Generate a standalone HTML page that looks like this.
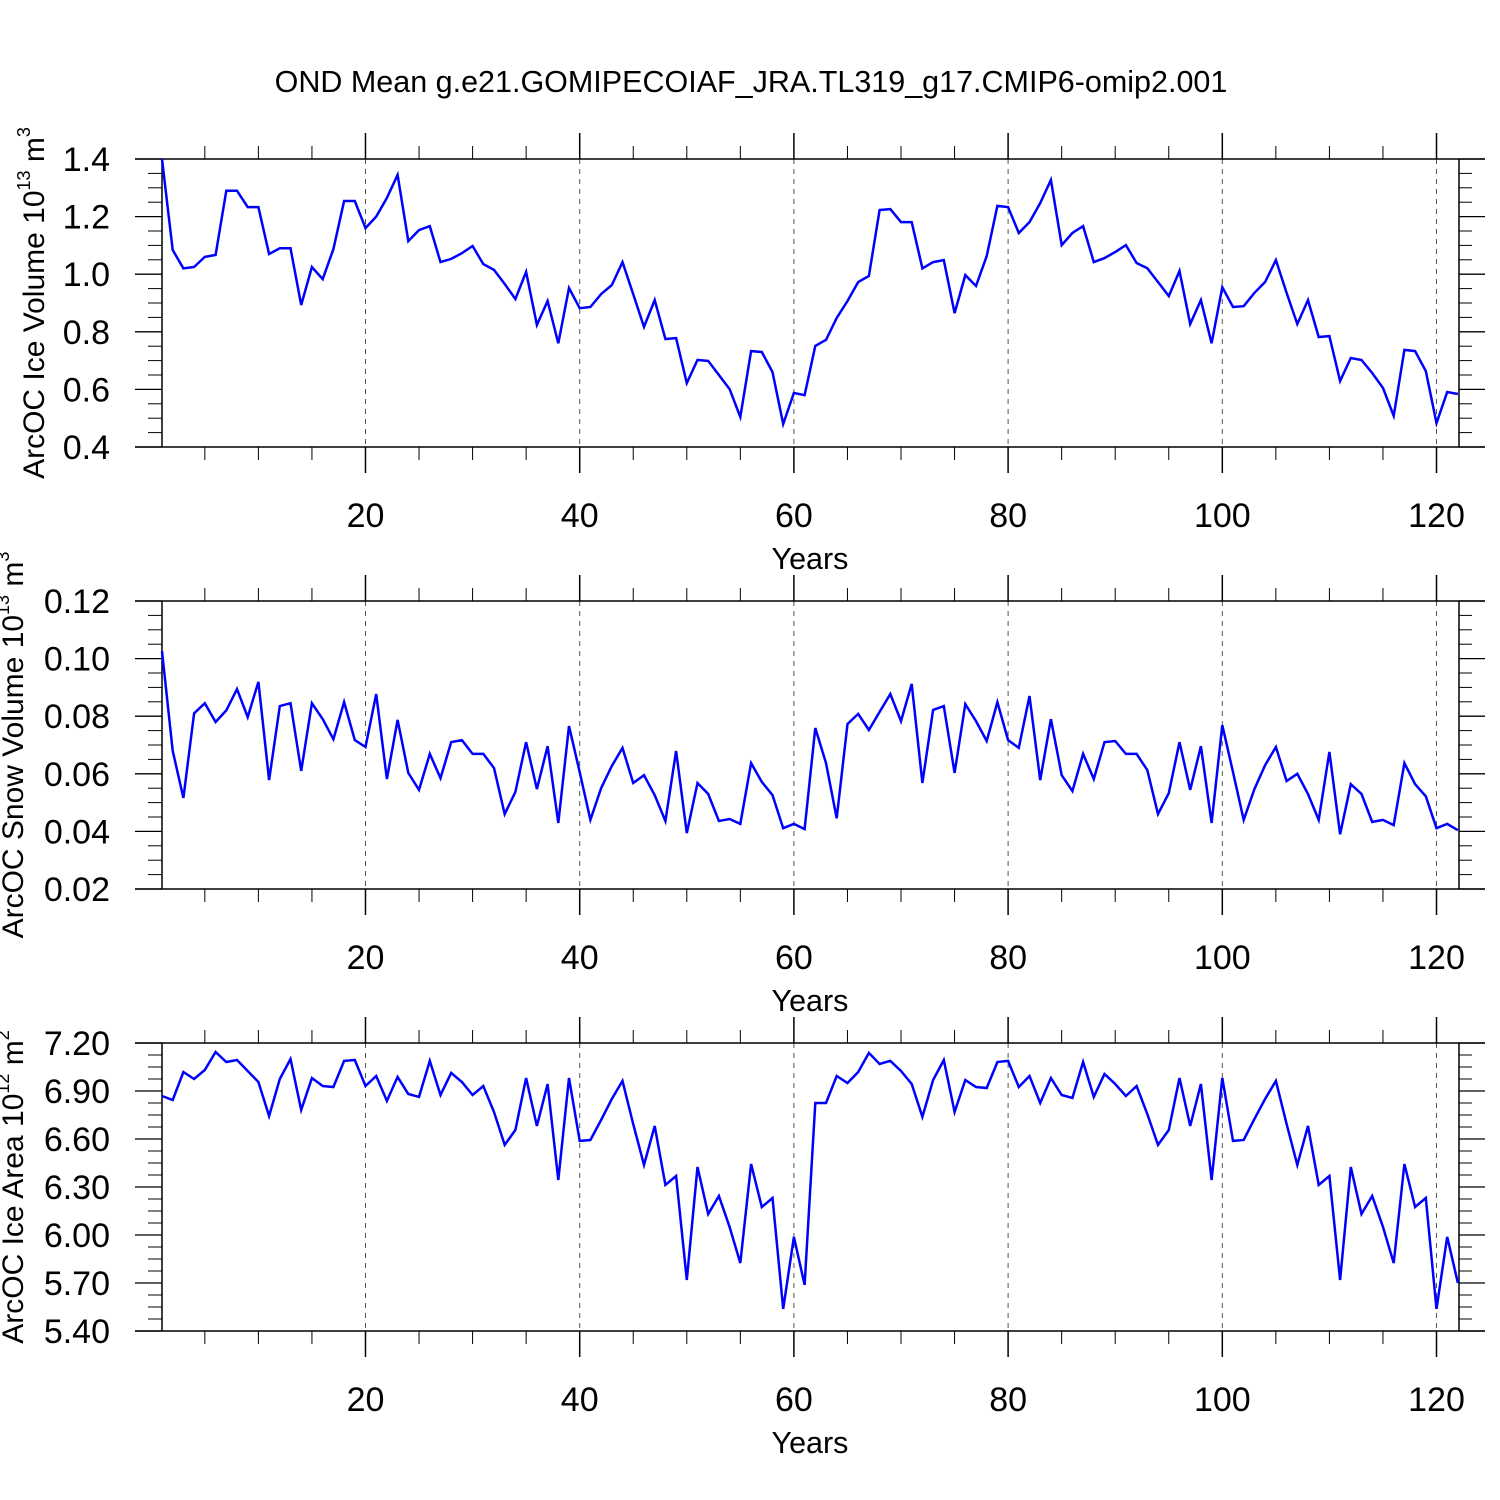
<!DOCTYPE html>
<html><head><meta charset="utf-8">
<style>
html,body{margin:0;padding:0;background:#fff;}
svg{display:block;font-family:"Liberation Sans",sans-serif;}
</style></head>
<body>
<svg id="chart" width="1500" height="1500" viewBox="0 0 1500 1500" xmlns="http://www.w3.org/2000/svg">
<rect width="1500" height="1500" fill="#fff"/>
<text x="751" y="92" font-size="30.5" text-anchor="middle">OND Mean g.e21.GOMIPECOIAF_JRA.TL319_g17.CMIP6-omip2.001</text>
</svg>
<script>
const iceVolume = [1.40,1.084,1.02,1.025,1.06,1.067,1.29,1.29,1.233,1.233,1.07,1.09,1.09,0.893,1.025,0.983,1.087,1.254,1.254,1.16,1.2,1.265,1.345,1.115,1.153,1.167,1.042,1.053,1.073,1.098,1.035,1.015,0.966,0.914,1.008,0.824,0.907,0.76,0.952,0.882,0.886,0.931,0.962,1.042,0.931,0.817,0.91,0.775,0.778,0.622,0.702,0.699,0.65,0.601,0.504,0.733,0.73,0.66,0.48,0.588,0.58,0.751,0.772,0.848,0.907,0.973,0.994,1.223,1.226,1.181,1.181,1.02,1.042,1.049,0.865,0.997,0.959,1.063,1.237,1.233,1.143,1.181,1.247,1.327,1.101,1.143,1.167,1.042,1.056,1.077,1.101,1.039,1.021,0.973,0.924,1.011,0.827,0.91,0.76,0.955,0.886,0.889,0.935,0.973,1.049,0.935,0.827,0.91,0.782,0.785,0.629,0.709,0.702,0.657,0.605,0.508,0.737,0.733,0.664,0.483,0.591,0.584];
const snowVolume = [0.1026,0.068,0.0516,0.081,0.0845,0.078,0.082,0.0894,0.0797,0.0919,0.0578,0.0835,0.0845,0.061,0.0845,0.079,0.072,0.0849,0.0717,0.0693,0.0877,0.0582,0.0787,0.0603,0.0544,0.0669,0.0585,0.071,0.0717,0.0669,0.0669,0.062,0.046,0.0537,0.071,0.0547,0.0696,0.0429,0.0766,0.0606,0.044,0.055,0.0627,0.069,0.0568,0.0595,0.0526,0.0436,0.0679,0.0394,0.0568,0.053,0.0436,0.0443,0.0426,0.0637,0.0572,0.0526,0.0411,0.0426,0.0408,0.0759,0.0637,0.0446,0.0773,0.0808,0.0752,0.0815,0.0877,0.0783,0.0912,0.0568,0.0822,0.0835,0.0603,0.0842,0.0783,0.0714,0.0849,0.0717,0.069,0.087,0.0578,0.079,0.0595,0.054,0.0669,0.0582,0.071,0.0714,0.0669,0.0669,0.0613,0.046,0.0533,0.071,0.0544,0.0696,0.0429,0.0769,0.0606,0.044,0.0547,0.063,0.0693,0.0575,0.06,0.053,0.044,0.0676,0.039,0.0564,0.053,0.0433,0.044,0.0422,0.0637,0.0564,0.0522,0.0411,0.0426,0.0404];
const iceArea = [6.869,6.844,7.019,6.975,7.031,7.144,7.081,7.094,7.025,6.956,6.744,6.975,7.1,6.781,6.981,6.931,6.925,7.088,7.094,6.931,6.994,6.838,6.988,6.881,6.863,7.088,6.875,7.013,6.956,6.875,6.931,6.769,6.563,6.656,6.981,6.681,6.944,6.344,6.981,6.588,6.594,6.719,6.85,6.963,6.694,6.438,6.681,6.313,6.369,5.719,6.425,6.131,6.244,6.05,5.825,6.444,6.175,6.231,5.538,5.988,5.688,6.825,6.825,6.994,6.95,7.019,7.138,7.069,7.088,7.025,6.944,6.738,6.969,7.094,6.769,6.969,6.925,6.919,7.081,7.088,6.925,6.994,6.825,6.981,6.875,6.856,7.081,6.863,7.006,6.944,6.869,6.931,6.756,6.563,6.656,6.981,6.681,6.944,6.344,6.981,6.588,6.594,6.725,6.85,6.963,6.694,6.438,6.681,6.313,6.369,5.719,6.425,6.131,6.244,6.05,5.825,6.444,6.175,6.231,5.538,5.988,5.7];
const xTickLabels = ["20","40","60","80","100","120"];
const xTickValues = [20,40,60,80,100,120];
const iceVolTicks = ["0.4","0.6","0.8","1.0","1.2","1.4"];
const snowTicks = ["0.02","0.04","0.06","0.08","0.10","0.12"];
const areaTicks = ["5.40","5.70","6.00","6.30","6.60","6.90","7.20"];

const NS="http://www.w3.org/2000/svg";
const svg=document.getElementById('chart');
function mk(tag,attrs,parent){const e=document.createElementNS(NS,tag);for(const k in attrs)e.setAttribute(k,attrs[k]);(parent||svg).appendChild(e);return e;}
const X0=162,X1=1459,YR0=1,YR1=122.1;
function xs(v){return X0+(v-YR0)/(YR1-YR0)*(X1-X0);}

function panel(key,top,bot,data,ticks,title,sup,titleX){
  const g=mk('g',{});
  
  
  const tv=ticks.map(Number);
  const lo=tv[0],hi=tv[tv.length-1];
  const ys=v=>bot-(v-lo)/(hi-lo)*(bot-top);
  xTickValues.forEach(v=>{
    const l=mk('line',{x1:xs(v),x2:xs(v),y1:top,y2:bot,stroke:'#555','stroke-width':1,'stroke-dasharray':'5,5'},g);
    
    
  });
  mk('line',{x1:135,x2:1485,y1:top,y2:top,stroke:'#000','stroke-width':1.5},g);
  mk('line',{x1:135,x2:1485,y1:bot,y2:bot,stroke:'#000','stroke-width':1.5},g);
  mk('line',{x1:X0,x2:X0,y1:top,y2:bot,stroke:'#000','stroke-width':1.5},g);
  mk('line',{x1:X1,x2:X1,y1:top,y2:bot,stroke:'#000','stroke-width':1.5},g);
  const step=(hi-lo)/(tv.length-1);
  for(let i=0;i<tv.length;i++){
    const y=ys(tv[i]);
    mk('line',{x1:135,x2:X0,y1:y,y2:y,stroke:'#000','stroke-width':1.3},g);
    mk('line',{x1:X1,x2:1485,y1:y,y2:y,stroke:'#000','stroke-width':1.3},g);
    const t=mk('text',{x:110,y:y+12,'font-size':34,'text-anchor':'end'},g);
    
    
    t.textContent=ticks[i];
    if(i<tv.length-1){
      for(let j=1;j<4;j++){
        const ym=ys(tv[i]+step*j/4);
        mk('line',{x1:148,x2:X0,y1:ym,y2:ym,stroke:'#000','stroke-width':1},g);
        mk('line',{x1:X1,x2:1472,y1:ym,y2:ym,stroke:'#000','stroke-width':1},g);
      }
    }
  }
  for(let v=5;v<=120;v+=5){
    const x=xs(v),major=v%20===0;
    mk('line',{x1:x,x2:x,y1:top-(major?26:13),y2:top,stroke:'#000','stroke-width':major?1.5:1},g);
    mk('line',{x1:x,x2:x,y1:bot,y2:bot+(major?26:13),stroke:'#000','stroke-width':major?1.5:1},g);
  }
  xTickValues.forEach((v,i)=>{
    const t=mk('text',{x:xs(v),y:bot+80,'font-size':34,'text-anchor':'middle'},g);
    
    
    t.textContent=xTickLabels[i];
  });
  const xt=mk('text',{x:810,y:bot+122,'font-size':30.5,'text-anchor':'middle'},g);
  
  
  xt.textContent='Years';
  const cy=(top+bot)/2;
  const yt=mk('text',{x:0,y:0,'font-size':30,'text-anchor':'middle',transform:`translate(${titleX},${cy}) rotate(-90)`},g);
  
  
  yt.appendChild(document.createTextNode(title+' 10'));
  const s1=mk('tspan',{'font-size':18,dy:-14},yt);s1.textContent=sup;
  const s2=mk('tspan',{dy:14},yt);s2.textContent=' m';
  const s3=mk('tspan',{'font-size':18,dy:-14},yt);s3.textContent=key==='ice-area'?'2':'3';
  const pts=data.map((v,i)=>xs(i+1).toFixed(1)+','+ys(v).toFixed(1)).join(' ');
  const pl=mk('polyline',{points:pts,fill:'none',stroke:'#0000ff','stroke-width':2.5,'stroke-linejoin':'miter'},g);
  
  
}
panel('ice-volume',159,447,iceVolume,iceVolTicks,'ArcOC Ice Volume','13',44);
panel('snow-volume',601,889,snowVolume,snowTicks,'ArcOC Snow Volume','13',23);
panel('ice-area',1043,1331,iceArea,areaTicks,'ArcOC Ice Area','12',23);
</script>
</body></html>
